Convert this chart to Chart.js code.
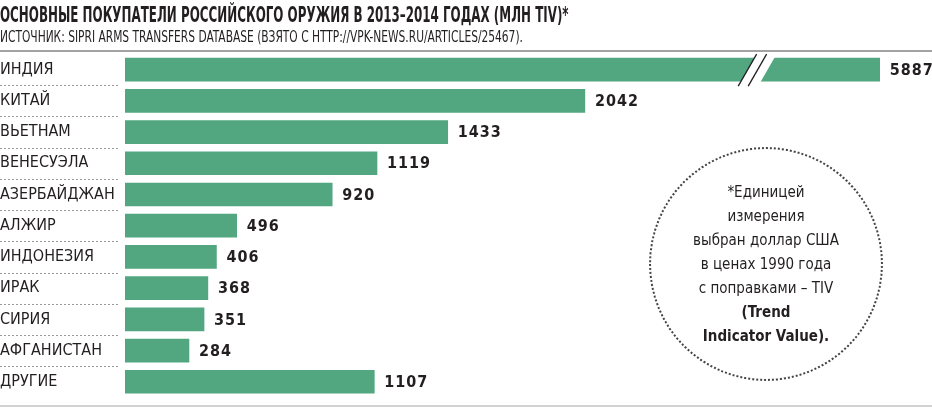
<!DOCTYPE html>
<html>
<head>
<meta charset="utf-8">
<script src="https://cdn.jsdelivr.net/npm/chart.js@4.4.1/dist/chart.umd.min.js"></script>
<style>
  body { margin: 0; width: 932px; height: 407px; overflow: hidden; background: #fff; position: relative;
         font-family: "DejaVu Sans Condensed", "DejaVu Sans", sans-serif; color: #231f20; }
  #title { position: absolute; left: 0; top: 3px; font-weight: bold; font-size: 21px; white-space: nowrap;
           transform: scaleX(0.63); transform-origin: 0 0; }
  #sub { position: absolute; left: 0; top: 28px; font-size: 15px; white-space: nowrap;
         transform: scaleX(0.79); transform-origin: 0 0; }
  #topline { position: absolute; left: 0; top: 50px; width: 932px; height: 2px; background: #a3a3a3; }
  #botline { position: absolute; left: 0; top: 405px; width: 932px; height: 2px; background: #d2d2d2; }
  #note { position: absolute; left: 649px; top: 147px; width: 234px; height: 234px; border: 2px dotted #444;
          border-radius: 50%; display: flex; align-items: center; justify-content: center; text-align: center;
          font-size: 15px; line-height: 24px; box-sizing: border-box; }
  #note b { font-weight: bold; }
  #wrap { position: absolute; left: 0; top: 0; width: 932px; height: 407px; }
</style>
</head>
<body>
<div id="wrap"><canvas id="chart"></canvas></div>
<div id="title">ОСНОВНЫЕ ПОКУПАТЕЛИ РОССИЙСКОГО ОРУЖИЯ В 2013–2014 ГОДАХ (МЛН TIV)*</div>
<div id="sub">ИСТОЧНИК: SIPRI ARMS TRANSFERS DATABASE (ВЗЯТО С HTTP://VPK-NEWS.RU/ARTICLES/25467).</div>
<div id="topline"></div>
<div id="botline"></div>
<div id="note"><div>*Единицей<br>измерения<br>выбран доллар США<br>в ценах 1990 года<br>с поправками – TIV<br><b>(Trend<br>Indicator Value).</b></div></div>
<script>
const countries = ['ИНДИЯ', 'КИТАЙ', 'ВЬЕТНАМ', 'ВЕНЕСУЭЛА', 'АЗЕРБАЙДЖАН', 'АЛЖИР', 'ИНДОНЕЗИЯ', 'ИРАК', 'СИРИЯ', 'АФГАНИСТАН', 'ДРУГИЕ'];
const values = [5887, 2042, 1433, 1119, 920, 496, 406, 368, 351, 284, 1107];

// India is drawn shortened with a break mark
const barCap = 3351;
const breakAt = 2765;
const axisMax = 3570;

const GREEN = '#52a781';
const FONT = '"DejaVu Sans Condensed", "DejaVu Sans", sans-serif';
const shown = values.map(v => Math.min(v, barCap));

// value labels after bar ends
const valueLabels = {
    id: 'valueLabels',
    afterDatasetsDraw(chart) {
        const ctx = chart.ctx;
        const meta = chart.getDatasetMeta(0);
        ctx.save();
        ctx.font = 'bold 16px ' + FONT;
        ctx.letterSpacing = '1px';
        ctx.fillStyle = '#231f20';
        ctx.textBaseline = 'middle';
        meta.data.forEach((bar, i) => {
            ctx.fillText(String(values[i]), bar.x + 10, bar.y + 1);
        });
        ctx.restore();
    }
};

// break on the long bar
const barBreak = {
    id: 'barBreak',
    afterDatasetsDraw(chart) {
        const ctx = chart.ctx;
        const bar = chart.getDatasetMeta(0).data[0];
        const xb = chart.scales.x.getPixelForValue(breakAt);
        const k = 0.575;
        const top = bar.y - bar.height / 2, bot = bar.y + bar.height / 2;
        const xAt = (y, off) => xb + off + (bar.y - y) * k;
        ctx.save();
        ctx.fillStyle = '#fff';
        ctx.beginPath();
        ctx.moveTo(xAt(bot + 1, 0), bot + 1);
        ctx.lineTo(xAt(top - 1, 0), top - 1);
        ctx.lineTo(xAt(top - 1, 20), top - 1);
        ctx.lineTo(xAt(bot + 1, 20), bot + 1);
        ctx.closePath();
        ctx.fill();
        ctx.strokeStyle = '#231f20';
        ctx.lineWidth = 1.3;
        [0, 10].forEach(off => {
            ctx.beginPath();
            ctx.moveTo(xAt(bot + 5, off), bot + 5);
            ctx.lineTo(xAt(top - 4, off), top - 4);
            ctx.stroke();
        });
        ctx.restore();
    }
};

// dotted separators under the country names
const separators = {
    id: 'separators',
    afterDraw(chart) {
        const ctx = chart.ctx;
        const y = chart.scales.y;
        ctx.save();
        ctx.strokeStyle = '#9a9a9a';
        ctx.lineWidth = 1;
        ctx.setLineDash([2, 2]);
        for (let i = 0; i < countries.length - 1; i++) {
            const yy = Math.round((y.getPixelForValue(i) + y.getPixelForValue(i + 1)) / 2) + 0.5;
            ctx.beginPath();
            ctx.moveTo(0, yy);
            ctx.lineTo(118, yy);
            ctx.stroke();
        }
        ctx.restore();
    }
};

new Chart(document.getElementById('chart'), {
    type: 'bar',
    data: {
        labels: countries,
        datasets: [{
            data: shown,
            backgroundColor: GREEN,
            borderWidth: 0,
            barThickness: 23
        }]
    },
    options: {
        indexAxis: 'y',
        responsive: true,
        maintainAspectRatio: false,
        animation: false,
        layout: { padding: { top: 54, bottom: 4, left: 0, right: 3 } },
        scales: {
            x: { display: false, min: 0, max: axisMax },
            y: {
                grid: { display: false },
                border: { display: false },
                afterFit(axis) { axis.width = 125; },
                ticks: {
                    crossAlign: 'far',
                    padding: 0,
                    color: '#231f20',
                    font: { family: FONT, size: 16 }
                }
            }
        },
        plugins: {
            legend: { display: false },
            tooltip: { enabled: false }
        }
    },
    plugins: [valueLabels, barBreak, separators]
});
</script>
</body>
</html>
